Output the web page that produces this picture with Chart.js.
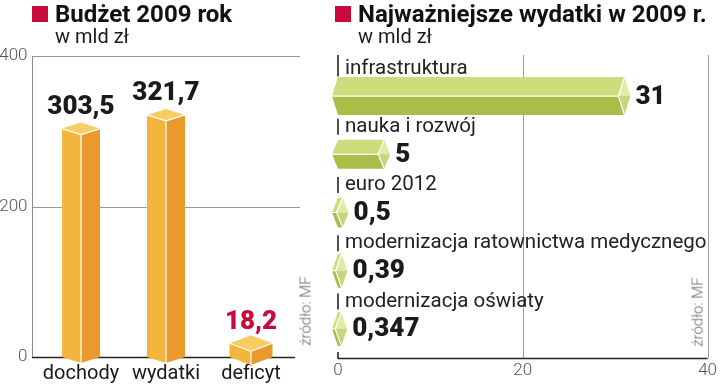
<!DOCTYPE html>
<html><head><meta charset="utf-8">
<script src="https://cdn.jsdelivr.net/npm/chart.js@4/dist/chart.umd.min.js"></script>
<style>
html,body{margin:0;padding:0;background:#fff;}
body{width:720px;height:389px;position:relative;overflow:hidden;font-family:Roboto,sans-serif;}
.wrap{position:absolute;top:0;height:389px;}
.sq{position:absolute;width:16px;height:16px;background:#c90a3d;}
.t{position:absolute;font-weight:700;font-size:24px;line-height:24px;color:#111;white-space:nowrap;}
.s{position:absolute;font-size:20px;line-height:20px;color:#1a1a1a;white-space:nowrap;}
.src{position:absolute;font-size:15px;font-weight:300;color:#666;white-space:nowrap;line-height:15px;transform:translate(-50%,-50%) rotate(-90deg);}
</style></head>
<body>
<div class="wrap" style="left:0;width:320px"><canvas id="cL"></canvas></div>
<div class="wrap" style="left:320px;width:400px"><canvas id="cR"></canvas></div>
<div class="sq" style="left:32px;top:6px"></div>
<div class="t" style="left:55px;top:2px">Budżet 2009 rok</div>
<div class="s" style="left:55px;top:26px">w mld zł</div>
<div class="sq" style="left:335px;top:6px"></div>
<div class="t" style="left:358px;top:2px">Najważniejsze wydatki w 2009 r.</div>
<div class="s" style="left:358px;top:26px">w mld zł</div>
<div class="src" style="left:306px;top:311px">źródło: MF</div>
<div class="src" style="left:698px;top:312px">źródło: MF</div>
<script>
// ---- data ----
const budgetCategories = ['dochody', 'wydatki', 'deficyt'];
const budgetValues = [303.5, 321.7, 18.2];
const budgetTicks = [0, 200, 400];

const spendCategories = ['infrastruktura', 'nauka i rozwój', 'euro 2012', 'modernizacja ratownictwa medycznego', 'modernizacja oświaty'];
const spendValues = [31, 5, 0.5, 0.39, 0.347];
const spendTicks = [0, 20, 40];

// ---- styles ----
const vBarWidths = [38, 38, 43];
const vBarDepth = [6, 6, 8];
const budgetLabelColors = ['#1a1a1a', '#1a1a1a', '#c90a3d'];
const hBarThickness = [38, 29, 30, 34, 34];
const hCap = 6;
const valueFont = '900 26px Roboto';

const fmt = v => String(v).replace('.', ',');

function poly(ctx, pts, fill) {
  ctx.beginPath();
  ctx.moveTo(pts[0][0], pts[0][1]);
  for (let i = 1; i < pts.length; i++) ctx.lineTo(pts[i][0], pts[i][1]);
  ctx.closePath();
  ctx.fillStyle = fill;
  ctx.fill();
}
function line(ctx, x1, y1, x2, y2, color, w) {
  ctx.beginPath(); ctx.moveTo(x1, y1); ctx.lineTo(x2, y2);
  ctx.strokeStyle = color; ctx.lineWidth = w; ctx.stroke();
}

const leftDecor = {
  id: 'leftDecor',
  beforeDatasetsDraw(chart) {
    const ctx = chart.ctx, ys = chart.scales.y, a = chart.chartArea;
    ctx.save();
    const gl = a.left - 6.5, gr = a.right + 6.5;
    budgetTicks.forEach(v => {
      const py = Math.round(ys.getPixelForValue(v)) + 0.5;
      if (v === 0) line(ctx, gl, py, a.right + 1.5, py, '#222', 1.6);
      else line(ctx, gl, py, gr, py, '#9a9a9a', 1);
    });
    line(ctx, gl + 0.5, a.top, gl + 0.5, a.bottom, '#8a8a8a', 1);
    ctx.restore();
  },
  afterDatasetsDraw(chart) {
    const ctx = chart.ctx, meta = chart.getDatasetMeta(0);
    ctx.save();
    meta.data.forEach((el, i) => {
      const w = vBarWidths[i], d = vBarDepth[i];
      const cx = el.x, x0 = cx - w / 2, x1 = cx + w / 2, y = el.y, b = el.base;
      poly(ctx, [[x0, y], [cx, y + d], [cx, b + d], [x0, b]], '#f4b53d');
      poly(ctx, [[cx, y + d], [x1, y], [x1, b], [cx, b + d]], '#e89b2c');
      poly(ctx, [[x0, y], [cx, y - d], [x1, y], [cx, y + d]], '#f8cd65');
      ctx.strokeStyle = '#fff'; ctx.lineWidth = 1.2; ctx.lineJoin = 'round';
      ctx.beginPath();
      ctx.moveTo(x0, y); ctx.lineTo(cx, y + d); ctx.lineTo(x1, y);
      ctx.moveTo(cx, y + d); ctx.lineTo(cx, b + d);
      ctx.stroke();
      ctx.font = valueFont;
      ctx.fillStyle = budgetLabelColors[i];
      ctx.textAlign = 'center'; ctx.textBaseline = 'middle';
      ctx.fillText(fmt(budgetValues[i]), cx, y - 21);
    });
    ctx.restore();
  }
};

const rightDecor = {
  id: 'rightDecor',
  beforeDatasetsDraw(chart) {
    const ctx = chart.ctx, xs = chart.scales.x, a = chart.chartArea, meta = chart.getDatasetMeta(0);
    ctx.save();
    const gridTop = 55;
    spendTicks.forEach(v => {
      if (v === 0) return;
      const px = Math.round(xs.getPixelForValue(v)) + 0.5;
      line(ctx, px, gridTop, px, a.bottom, '#9a9a9a', 1);
    });
    const x0 = xs.getPixelForValue(0);
    line(ctx, x0, a.bottom + 0.5, xs.getPixelForValue(40), a.bottom + 0.5, '#222', 1.6);
    meta.data.forEach((el, i) => {
      const ly = el.y - 27.5;
      line(ctx, x0, i === 0 ? gridTop : ly - 8, x0, ly + 8, '#222', 1.6);
    });
    line(ctx, x0, a.bottom - 6, x0, a.bottom + 1, '#222', 1.6);
    ctx.restore();
  },
  afterDatasetsDraw(chart) {
    const ctx = chart.ctx, a = chart.chartArea, meta = chart.getDatasetMeta(0);
    ctx.save();
    meta.data.forEach((el, i) => {
      const h = hBarThickness[i] / 2, w = hCap, x = el.x, y = el.y, b = el.base;
      poly(ctx, [[b, y - h], [x, y - h], [x - w, y], [b - w, y]], '#cfdc7c');
      poly(ctx, [[b - w, y], [x - w, y], [x, y + h], [b, y + h]], '#a9bd47');
      poly(ctx, [[x, y - h], [x + w, y], [x - w, y]], '#e2eaa8');
      poly(ctx, [[x - w, y], [x + w, y], [x, y + h]], '#c8d57e');
      ctx.strokeStyle = '#fff'; ctx.lineWidth = 1.2; ctx.lineJoin = 'round';
      ctx.beginPath();
      ctx.moveTo(b - w, y); ctx.lineTo(x - w, y);
      ctx.moveTo(x, y - h); ctx.lineTo(x - w, y); ctx.lineTo(x, y + h);
      ctx.stroke();
      ctx.font = valueFont;
      ctx.fillStyle = '#1a1a1a';
      ctx.textAlign = 'left'; ctx.textBaseline = 'middle';
      ctx.fillText(fmt(spendValues[i]), x + w + 5, y + 1);
      ctx.font = '20.5px Roboto';
      ctx.fillStyle = '#222';
      ctx.fillText(spendCategories[i], a.left + 7, y - 27.5);
    });
    ctx.restore();
  }
};

new Chart(document.getElementById('cL'), {
  type: 'bar',
  data: { labels: budgetCategories, datasets: [{ data: budgetValues, backgroundColor: 'rgba(0,0,0,0)', borderWidth: 0, barThickness: 38 }] },
  options: {
    responsive: true, maintainAspectRatio: false, animation: false,
    layout: { padding: { top: 56, right: 26.5, left: 0, bottom: 0 } },
    plugins: { legend: { display: false }, tooltip: { enabled: false } },
    scales: {
      x: {
        grid: { display: false, drawTicks: false }, border: { display: false },
        ticks: { color: '#1a1a1a', font: { family: 'Roboto', size: 20 }, padding: 5, maxRotation: 0 },
        afterFit: s => { s.height = 32; }
      },
      y: {
        min: 0, max: 400,
        afterBuildTicks: s => { s.ticks = budgetTicks.map(v => ({ value: v })); },
        grid: { display: false, drawTicks: false }, border: { display: false },
        ticks: { color: '#555', font: { family: 'Roboto', size: 17, weight: '300' }, padding: 11 },
        afterFit: s => { s.width = 38.5; }
      }
    }
  },
  plugins: [leftDecor]
});

new Chart(document.getElementById('cR'), {
  type: 'bar',
  data: { labels: spendCategories, datasets: [{ data: spendValues, backgroundColor: 'rgba(0,0,0,0)', borderWidth: 0, barThickness: 34 }] },
  options: {
    indexAxis: 'y',
    responsive: true, maintainAspectRatio: false, animation: false,
    layout: { padding: { top: 67, right: 10, left: 0, bottom: 0 } },
    plugins: { legend: { display: false }, tooltip: { enabled: false } },
    scales: {
      x: {
        min: 0, max: 40,
        afterBuildTicks: s => { s.ticks = spendTicks.map(v => ({ value: v })); },
        grid: { display: false, drawTicks: false }, border: { display: false },
        ticks: { color: '#555', font: { family: 'Roboto', size: 17, weight: '300' }, padding: 3, maxRotation: 0 },
        afterFit: s => { s.height = 31; }
      },
      y: {
        grid: { display: false, drawTicks: false }, border: { display: false },
        ticks: { display: false },
        afterFit: s => { s.width = 18; }
      }
    }
  },
  plugins: [rightDecor]
});
</script>
</body></html>
